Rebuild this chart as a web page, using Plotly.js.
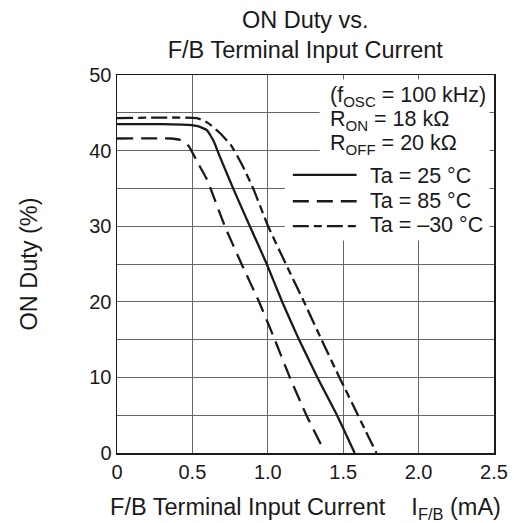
<!DOCTYPE html>
<html>
<head>
<meta charset="utf-8">
<script src="https://cdn.plot.ly/plotly-3.0.1.min.js"></script>
<style>html,body{margin:0;padding:0;background:#fff;}#chart{width:514px;height:523px;}</style>
</head>
<body>
<div id="chart"></div>
<script>
// Ta = 25 °C
const x25 = [0, 0.30, 0.475, 0.54, 0.596, 0.64, 0.68, 0.77, 0.881, 0.993, 1.095, 1.207, 1.329, 1.459, 1.576];
const y25 = [43.5, 43.5, 43.4, 43.2, 42.7, 41.3, 39.3, 35, 30, 25, 20, 15, 10, 5, 0];
// Ta = 85 °C
const x85 = [0, 0.353, 0.42, 0.475, 0.53, 0.596, 0.62, 0.715, 0.826, 0.942, 1.046, 1.146, 1.256, 1.351];
const y85 = [41.6, 41.6, 41.4, 40.6, 38.6, 36.2, 35, 30, 25, 20, 15, 10, 5, 1.2];
// Ta = -30 °C
const xm30 = [0, 0.53, 0.60, 0.684, 0.76, 0.83, 0.903, 1.002, 1.12, 1.24, 1.356, 1.475, 1.598, 1.72];
const ym30 = [44.3, 44.3, 43.7, 42.3, 40.6, 38.1, 35, 30, 25, 20, 15, 10, 5, 0];

const xTicks = [0, 0.5, 1.0, 1.5, 2.0, 2.5];
const xTickText = ['0', '0.5', '1.0', '1.5', '2.0', '2.5'];
const yTicks = [0, 10, 20, 30, 40, 50];

const FONT = 'Liberation Sans, Arial, sans-serif';
const FS = 20;
const TFS = 23.5;
const AFS = 21.5;
const INK = '#1a1a1a';

const DASH85 = '16px,8px';
const DASHM30 = '16px,5px,8px,5px';
const LW = 2.3;

const traces = [
  {x: x25, y: y25, mode: 'lines', line: {color: INK, width: LW, dash: 'solid', shape: 'spline', smoothing: 0.4}, name: 'Ta = 25 °C'},
  {x: x85, y: y85, mode: 'lines', line: {color: INK, width: LW, dash: DASH85, shape: 'spline', smoothing: 0.4}, name: 'Ta = 85 °C'},
  {x: xm30, y: ym30, mode: 'lines', line: {color: INK, width: LW, dash: DASHM30, shape: 'spline', smoothing: 0.4}, name: 'Ta = –30 °C'}
];

const shapes = [
  {type: 'rect', xref: 'x', yref: 'y', x0: 1.344, x1: 2.47, y0: 38.8, y1: 49.4, fillcolor: '#fff', line: {width: 0}, layer: 'between'},
  {type: 'rect', xref: 'x', yref: 'y', x0: 1.113, x1: 2.47, y0: 28.1, y1: 38.9, fillcolor: '#fff', line: {width: 0}, layer: 'between'},
  {type: 'line', xref: 'x', yref: 'y', x0: 1.166, x1: 1.589, y0: 36.8, y1: 36.8, line: {color: INK, width: LW, dash: 'solid'}},
  {type: 'line', xref: 'x', yref: 'y', x0: 1.166, x1: 1.589, y0: 33.3, y1: 33.3, line: {color: INK, width: LW, dash: DASH85}},
  {type: 'line', xref: 'x', yref: 'y', x0: 1.166, x1: 1.589, y0: 30.0, y1: 30.0, line: {color: INK, width: LW, dash: DASHM30}}
];

const noteFont = {family: FONT, size: AFS, color: INK};
const annotations = [
  {text: '(f<sub>OSC</sub> = 100 kHz)', x: 1.397, y: 47.15},
  {text: 'R<sub>ON</sub> = 18 kΩ', x: 1.397, y: 44.0},
  {text: 'R<sub>OFF</sub> = 20 kΩ', x: 1.397, y: 40.8},
  {text: 'Ta = 25 °C', x: 1.662, y: 36.7},
  {text: 'Ta = 85 °C', x: 1.662, y: 33.3},
  {text: 'Ta = –30 °C', x: 1.662, y: 30.1}
].map(a => Object.assign({xref: 'x', yref: 'y', xanchor: 'left', yanchor: 'middle', showarrow: false, font: noteFont}, a));

const layout = {
  width: 514, height: 523,
  margin: {l: 117, r: 20, t: 75, b: 70, pad: 0},
  paper_bgcolor: '#fff', plot_bgcolor: '#fff',
  showlegend: false,
  font: {family: FONT, size: FS, color: INK},
  title: {text: 'ON Duty vs.<br>F/B Terminal Input Current', x: 0.594, xanchor: 'center', y: 0.947, yanchor: 'top', font: {family: FONT, size: TFS, color: INK}},
  xaxis: {
    range: [0, 2.5], tickvals: xTicks, ticktext: xTickText, ticks: '', showgrid: true, gridcolor: '#666', gridwidth: 1,
    zeroline: false, showline: true, linecolor: INK, linewidth: 1.5, mirror: true,
    tickfont: {family: FONT, size: FS, color: INK},
    title: {text: 'F/B Terminal Input Current\u00a0\u00a0\u00a0\u00a0I<sub>F/B</sub> (mA)', standoff: 18, font: {family: FONT, size: TFS, color: INK}}
  },
  yaxis: {
    range: [0, 50], tickvals: yTicks, ticks: '', showgrid: true, gridcolor: '#666', gridwidth: 1,
    zeroline: false, showline: true, linecolor: INK, linewidth: 1.5, mirror: true,
    minor: {dtick: 5, showgrid: true, gridcolor: '#666', gridwidth: 1},
    tickfont: {family: FONT, size: FS, color: INK},
    title: {text: 'ON Duty (%)', standoff: 45, font: {family: FONT, size: TFS, color: INK}}
  },
  shapes: shapes,
  annotations: annotations
};

Plotly.newPlot('chart', traces, layout, {displayModeBar: false, staticPlot: true});
</script>
</body>
</html>
